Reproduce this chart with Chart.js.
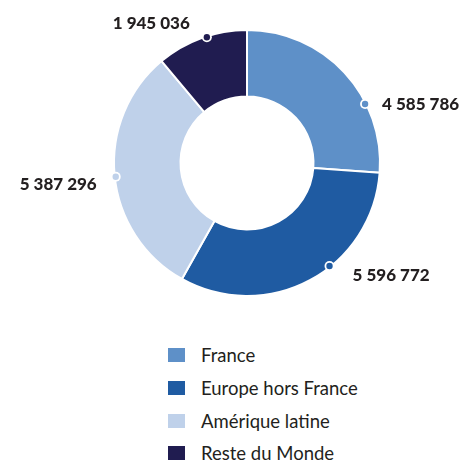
<!DOCTYPE html>
<html>
<head>
<meta charset="utf-8">
<script src="https://cdn.jsdelivr.net/npm/chart.js@4/dist/chart.umd.min.js"></script>
<style>
    body { margin: 0; background: #fff; }
    #wrap { position: relative; width: 470px; height: 462px; }
    #chart { position: absolute; left: 0; top: 0; }
    #legend { position: absolute; left: 168px; top: 339px; font-family: Lato, sans-serif; font-size: 18.5px; color: #231f20; }
    .item { height: 32.7px; display: flex; align-items: center; }
    .box { width: 17px; height: 14px; margin-right: 16px; }
</style>
</head>
<body>
<div id="wrap">
    <canvas id="chart" width="470" height="326"></canvas>
    <div id="legend"></div>
</div>
<script>
// Data
const categories = ['France', 'Europe hors France', 'Amérique latine', 'Reste du Monde'];
const values = [4585786, 5596772, 5387296, 1945036];
const colors = ['#5e90c8', '#1f5ba2', '#bfd1ea', '#201c50'];

// where the dot sits inside each slice (0 = start, 1 = end) and text offset from the dot
const dotAt = [0.673, 0.409, 0.494, 0.557];
const textOffset = [[17, 1, 'left'], [23, 9, 'left'], [-19, 8, 'right'], [-17, -14, 'right']];

function formatNumber(n) {
    return String(n).replace(/\B(?=(\d{3})+(?!\d))/g, ' ');
}

// Draws the small dots and value labels
const valueLabels = {
    id: 'valueLabels',
    afterDatasetsDraw(chart) {
        const ctx = chart.ctx;
        const arcs = chart.getDatasetMeta(0).data;
        arcs.forEach((arc, i) => {
            const a = arc.startAngle + (arc.endAngle - arc.startAngle) * dotAt[i];
            const r = arc.outerRadius - 1;
            const x = arc.x + Math.cos(a) * r;
            const y = arc.y + Math.sin(a) * r;

            ctx.save();
            ctx.beginPath();
            ctx.arc(x, y, 5, 0, Math.PI * 2);
            ctx.fillStyle = '#fff';
            ctx.fill();
            ctx.beginPath();
            ctx.arc(x, y, 3.2, 0, Math.PI * 2);
            ctx.fillStyle = colors[i];
            ctx.fill();

            const off = textOffset[i];
            ctx.font = '900 17px Lato, sans-serif';
            ctx.fillStyle = '#231f20';
            ctx.textAlign = off[2];
            ctx.textBaseline = 'middle';
            ctx.fillText(formatNumber(values[i]), x + off[0], y + off[1]);
            ctx.restore();
        });
    }
};

new Chart(document.getElementById('chart').getContext('2d'), {
    type: 'doughnut',
    data: {
        labels: categories,
        datasets: [{
            data: values,
            backgroundColor: colors,
            borderColor: '#fff',
            borderWidth: 2
        }]
    },
    options: {
        responsive: false,
        animation: false,
        radius: 133,
        cutout: '50%',
        layout: { padding: { left: 24, right: 0, top: 0, bottom: 0 } },
        plugins: {
            legend: { display: false },
            tooltip: { enabled: false }
        }
    },
    plugins: [valueLabels]
});

// Legend, one item per row
const legend = document.getElementById('legend');
categories.forEach((name, i) => {
    const item = document.createElement('div');
    item.className = 'item';
    item.innerHTML = '<span class="box" style="background:' + colors[i] + '"></span>' + name;
    legend.appendChild(item);
});
</script>
</body>
</html>
